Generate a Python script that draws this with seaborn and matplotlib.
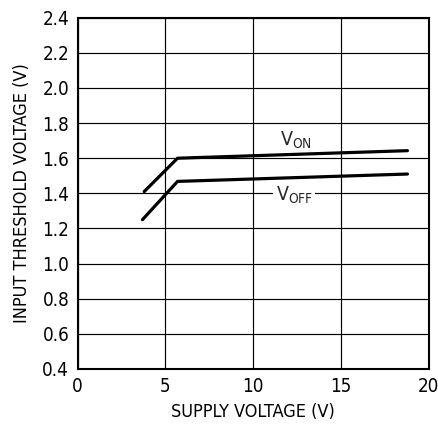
import matplotlib
matplotlib.use("Agg")
import matplotlib.pyplot as plt
from matplotlib import font_manager
import seaborn as sns
import pandas as pd

# Input threshold voltage vs supply voltage
supply_on = [3.8, 5.7, 18.8]
v_on = [1.41, 1.60, 1.643]
supply_off = [3.7, 5.7, 18.8]
v_off = [1.25, 1.468, 1.51]

x_ticks = [0, 5, 10, 15, 20]
y_ticks = [0.4, 0.6, 0.8, 1.0, 1.2, 1.4, 1.6, 1.8, 2.0, 2.2, 2.4]

df = pd.concat([
    pd.DataFrame({"supply": supply_on, "threshold": v_on, "curve": "on"}),
    pd.DataFrame({"supply": supply_off, "threshold": v_off, "curve": "off"}),
])

sns.set_theme(style="white")
names = {f.name for f in font_manager.fontManager.ttflist}
family = "Liberation Sans Narrow" if "Liberation Sans Narrow" in names else "DejaVu Sans"
plt.rcParams["font.family"] = [family, "DejaVu Sans"]
plt.rcParams["font.stretch"] = "condensed"
plt.rcParams["mathtext.fontset"] = "custom"
plt.rcParams["mathtext.rm"] = "DejaVu Sans:stretch=condensed"

fig = plt.figure(figsize=(4.38, 4.24), dpi=100)
ax = fig.add_axes([77.5 / 438, 1 - 369 / 424, 351 / 438, 351.3 / 424])

sns.lineplot(data=df, x="supply", y="threshold", units="curve", estimator=None,
             color="black", linewidth=2.3, sort=False, ax=ax, legend=False)

ax.set_xlim(0, 20)
ax.set_ylim(0.4, 2.4)
ax.set_xticks(x_ticks)
ax.set_yticks(y_ticks)
ax.set_xticklabels([str(t) for t in x_ticks], fontsize=13.5)
ax.set_yticklabels([f"{t:.1f}" for t in y_ticks], fontsize=13.5)
ax.grid(True, color="black", linewidth=0.85)
ax.set_axisbelow(True)
for s in ax.spines.values():
    s.set_color("black")
    s.set_linewidth(1.5)
ax.tick_params(axis="both", length=0, pad=6, colors="black")
ax.set_xlabel("SUPPLY VOLTAGE (V)", fontsize=13, color="black", labelpad=5)
ax.set_ylabel("INPUT THRESHOLD VOLTAGE (V)", fontsize=13, color="black", labelpad=8)

ax.text(12.45, 1.70, r"V$_{\mathregular{ON}}$", fontsize=14, ha="center", va="center")
ax.text(12.35, 1.39, r"V$_{\mathregular{OFF}}$", fontsize=14, ha="center", va="center",
        bbox=dict(facecolor="white", edgecolor="none", pad=1.5))

fig.savefig("out.png", dpi=100)
